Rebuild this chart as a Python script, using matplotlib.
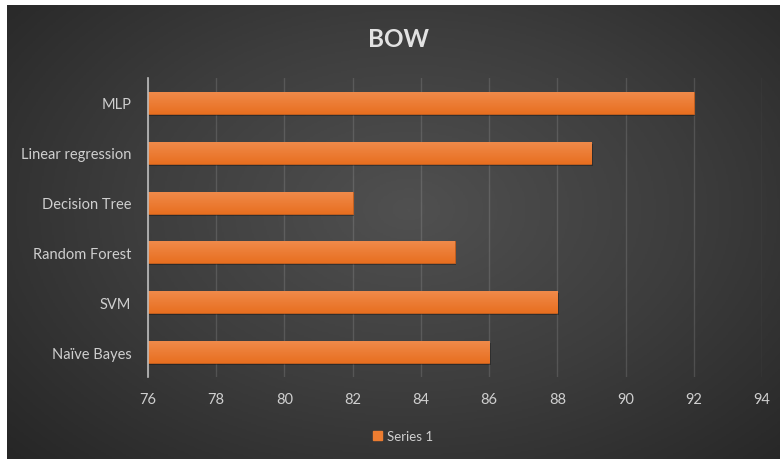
import matplotlib
matplotlib.use("Agg")
import matplotlib.pyplot as plt
import matplotlib.patheffects as pe
from matplotlib.colors import LinearSegmentedColormap
import numpy as np

plt.rcParams['font.family'] = ['Lato', 'DejaVu Sans']

models = ["Naïve Bayes", "SVM", "Random Forest", "Decision Tree",
          "Linear regression", "MLP"]
scores = [86, 88, 85, 82, 89, 92]
xticks = [76, 78, 80, 82, 84, 86, 88, 90, 92, 94]
series_name = "Series 1"

bar_orange = "#ED7D31"
text_grey = "#cfcfcf"

fig = plt.figure(figsize=(7.8, 4.6), dpi=100)
fig.patch.set_facecolor("white")

# dark radial backdrop
bg = fig.add_axes([7 / 780, 0, 1 - 7 / 780, 1 - 6 / 460])
bg.set_axis_off()
yy, xx = np.mgrid[0:1:300j, 0:1:500j]
dist = np.sqrt(((xx - 0.52) / 0.75) ** 2 + ((yy - 0.45) / 0.85) ** 2)
dist = np.clip(dist, 0, 1)
bg_cmap = LinearSegmentedColormap.from_list("bg", ["#505050", "#3d3d3d", "#262626"])
bg.imshow(dist, cmap=bg_cmap, aspect="auto", extent=[0, 1, 0, 1], origin="upper")
bg.set_xlim(0, 1)
bg.set_ylim(0, 1)

ax = fig.add_axes([148 / 780, 1 - 378 / 460, (762 - 148) / 780, (378 - 79) / 460])
ax.set_facecolor("none")

ypos = np.arange(len(models))
bars = ax.barh(ypos, [s - xticks[0] for s in scores], left=xticks[0], height=0.44,
               color=bar_orange, edgecolor="#c8601e", linewidth=0.6, zorder=3,
               path_effects=[pe.SimplePatchShadow(offset=(1, -1.5), alpha=0.3,
                                                  shadow_rgbFace="black"),
                             pe.Normal()])

# vertical shading on each bar
bar_cmap = LinearSegmentedColormap.from_list("bar", ["#e86f20", "#f08a4a"])
grad = np.linspace(0, 1, 64).reshape(-1, 1)
for b in bars:
    x0, y0 = b.get_x(), b.get_y()
    im = ax.imshow(grad, cmap=bar_cmap, aspect="auto", origin="lower",
                   extent=[x0, x0 + b.get_width(), y0, y0 + b.get_height()],
                   zorder=4)
    im.set_clip_path(b)

ax.set_xlim(xticks[0], xticks[-1])
ax.set_ylim(-0.5, len(models) - 0.5)
ax.set_xticks(xticks)
ax.set_yticks(ypos)
ax.set_yticklabels(models)
ax.tick_params(axis="both", length=0, colors=text_grey, labelsize=10.5)
ax.tick_params(axis="x", pad=11)
ax.tick_params(axis="y", pad=12)

ax.grid(axis="x", color="white", alpha=0.13, linewidth=1, zorder=0)
for side in ["top", "right", "bottom"]:
    ax.spines[side].set_visible(False)
ax.spines["left"].set_color("#bdbdbd")
ax.spines["left"].set_linewidth(1.2)
ax.spines["left"].set_zorder(5)

fig.text(398 / 780, 1 - 40 / 460, "BOW", ha="center", va="center",
         fontsize=17.5, fontweight="bold", color="#e2e2e2")

handle = plt.Rectangle((0, 0), 1, 1, color=bar_orange)
leg = fig.legend([handle], [series_name], loc="center",
                 bbox_to_anchor=(403 / 780, 1 - 437 / 460), frameon=False,
                 fontsize=9.5, handlelength=0.7, handleheight=0.7, handletextpad=0.4)
for t in leg.get_texts():
    t.set_color(text_grey)

fig.savefig("out.png", dpi=100, facecolor=fig.get_facecolor())
